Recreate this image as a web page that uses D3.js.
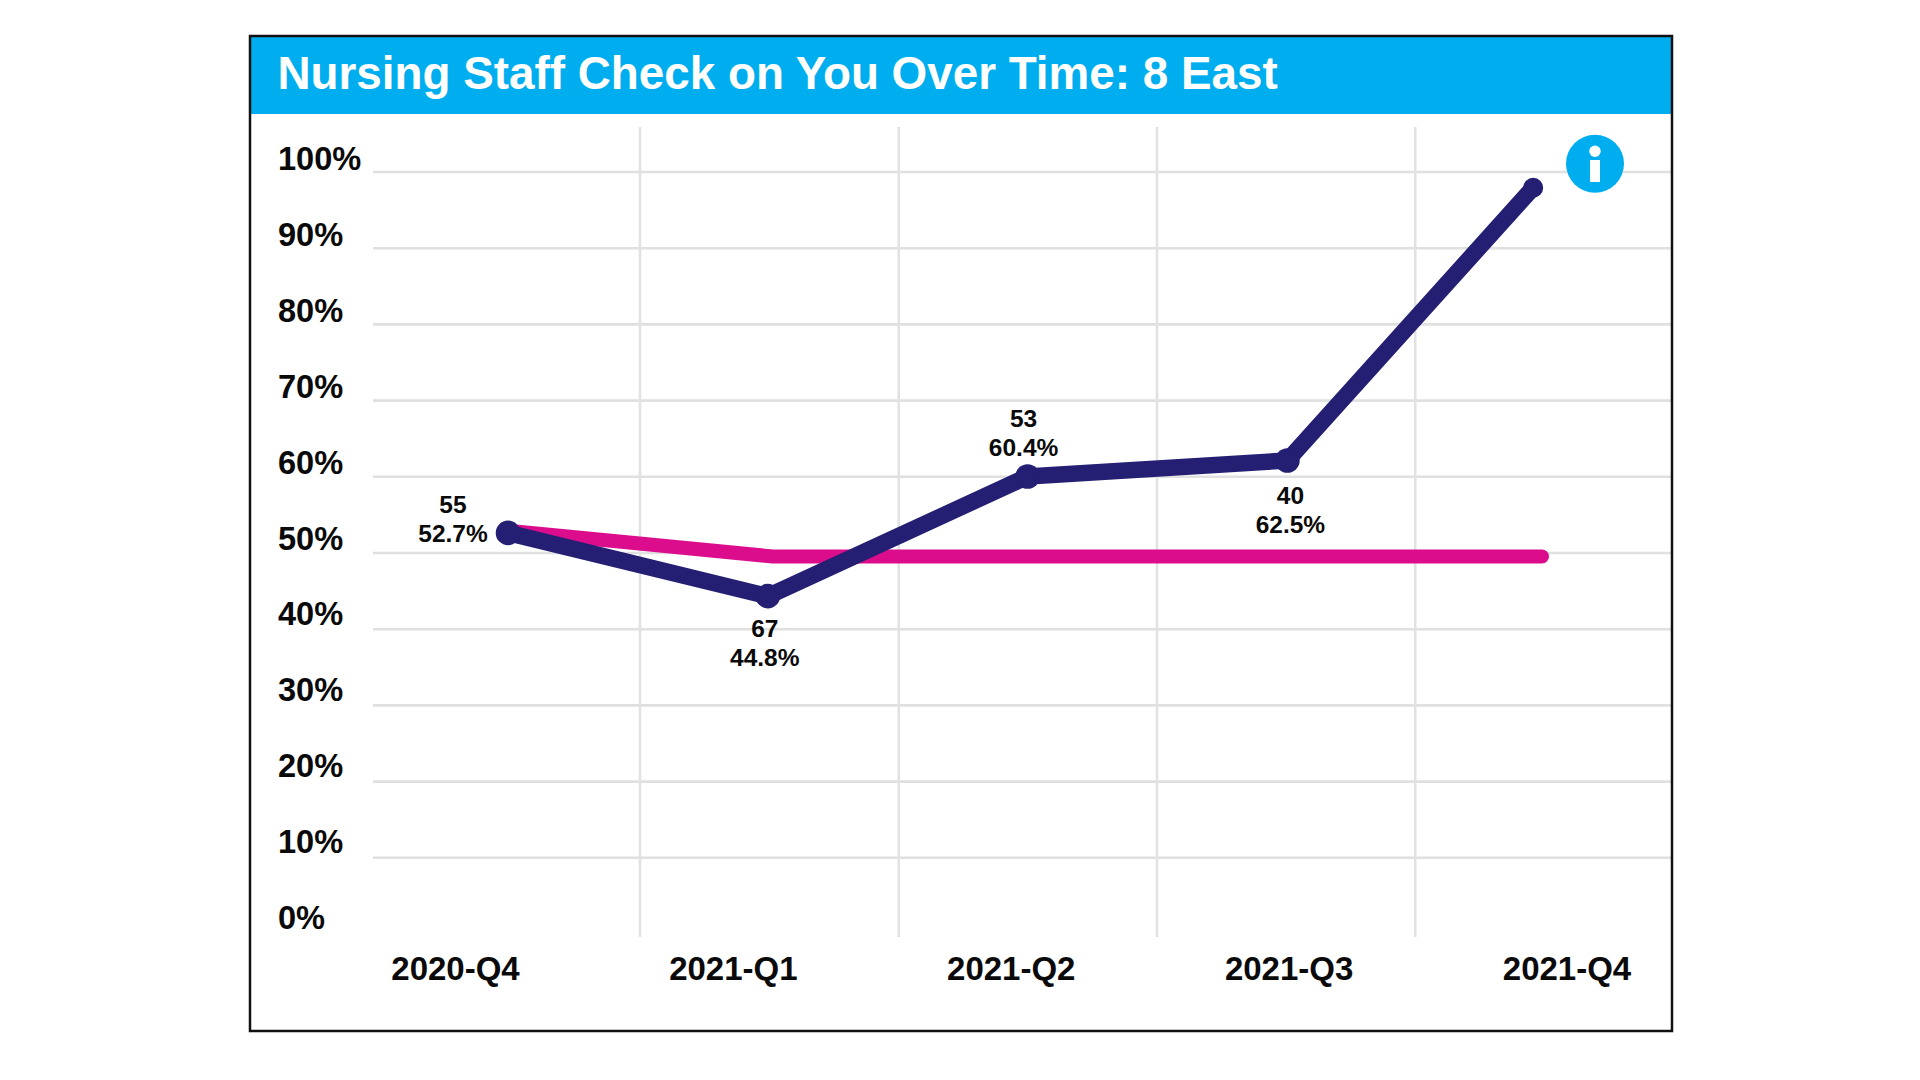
<!DOCTYPE html>
<html>
<head>
<meta charset="utf-8">
<script src="https://cdn.jsdelivr.net/npm/d3@7"></script>
<style>
html,body{margin:0;padding:0;background:#fff;}
svg{display:block;}
text{font-family:"Liberation Sans",Arial,sans-serif;font-weight:700;fill:#0a0a0a;}
</style>
</head>
<body>
<svg id="chart" width="1920" height="1080"></svg>
<script>
// ---- data ----
const chartTitle = "Nursing Staff Check on You Over Time: 8 East";
const quarters = ["2020-Q4","2021-Q1","2021-Q2","2021-Q3","2021-Q4"];
const yTicks = [0,10,20,30,40,50,60,70,80,90,100];
const verticalGridAt = [0.508,1.504,2.498,3.492];
const unitPeriods = [0,1,2,3,3.946];
const unitValues = [52.6,44.3,60.0,62.1,97.9];
const benchmarkPeriods = [0,1.02,2,3,3.98];
const benchmarkValues = [52.9,49.5,49.5,49.5,49.5];
const sampleLabels = ["55","67","53","40"];
const percentLabels = ["52.7%","44.8%","60.4%","62.5%"];

// ---- layout ----
const frame = {x:250,y:36,w:1422,h:995,headerH:78};
const plot = {x0:508,stepX:259.8,yTop:171.7,yBottom:933.7,gridLeft:373,vTop:127,vBottom:937};
const labelOffsets = [[-55,-19.5],[-3,41],[-4,-49.5],[3,43.5]];
const labelLineGap = 29;

const svg = d3.select("#chart");
const x = d3.scaleLinear().domain([0,1]).range([plot.x0,plot.x0+plot.stepX]);
const y = d3.scaleLinear().domain([0,100]).range([plot.yBottom,plot.yTop]);
const yLabelBase = d3.scaleLinear().domain([0,100]).range([929,170]);
const xLabel = d3.scalePoint().domain(quarters).range([455.5,1567]);

svg.append("rect").attr("x",frame.x).attr("y",frame.y).attr("width",frame.w).attr("height",frame.h).attr("fill","#fff");

// grids
svg.append("g").selectAll("line").data(yTicks.filter(d=>d>0)).join("line")
  .attr("x1",plot.gridLeft).attr("x2",frame.x+frame.w)
  .attr("y1",d=>y(d)+0.3).attr("y2",d=>y(d)+0.3)
  .attr("stroke","#e0e0e0").attr("stroke-width",2.6);
svg.append("g").selectAll("line").data(verticalGridAt).join("line")
  .attr("x1",d=>x(d)).attr("x2",d=>x(d))
  .attr("y1",plot.vTop).attr("y2",plot.vBottom)
  .attr("stroke","#e2e2e2").attr("stroke-width",2.6);

// header
svg.append("rect").attr("x",frame.x).attr("y",frame.y).attr("width",frame.w).attr("height",frame.headerH).attr("fill","#00AEEF");
svg.append("text").attr("x",277.5).attr("y",89).attr("font-size",45.8).style("fill","#fff").text(chartTitle);

// axis labels
svg.append("g").selectAll("text").data(yTicks).join("text")
  .attr("x",278).attr("y",d=>yLabelBase(d)).attr("font-size",32.6).text(d=>d+"%");
svg.append("g").selectAll("text").data(quarters).join("text")
  .attr("x",d=>xLabel(d)).attr("y",980).attr("text-anchor","middle").attr("font-size",33).text(d=>d);

// lines
const lineGen = d3.line().x(d=>x(d[0])).y(d=>y(d[1]));
const benchmark = d3.zip(benchmarkPeriods,benchmarkValues);
const unit = d3.zip(unitPeriods,unitValues);
svg.append("path").attr("d",lineGen(benchmark)).attr("fill","none")
  .attr("stroke","#DC0D8C").attr("stroke-width",14).attr("stroke-linecap","round").attr("stroke-linejoin","round");
svg.append("path").attr("d",lineGen(unit)).attr("fill","none")
  .attr("stroke","#241F72").attr("stroke-width",16.5).attr("stroke-linejoin","round");
svg.append("g").selectAll("circle").data(unit).join("circle")
  .attr("cx",d=>x(d[0])).attr("cy",d=>y(d[1]))
  .attr("r",(d,i)=>i===unit.length-1?10:12.3).attr("fill","#241F72");

// data labels
const labelG = svg.append("g").attr("font-size",24.5).attr("text-anchor","middle");
sampleLabels.forEach((s,i)=>{
  const px = x(unitPeriods[i])+labelOffsets[i][0], py = y(unitValues[i])+labelOffsets[i][1];
  labelG.append("text").attr("x",px).attr("y",py).text(s);
  labelG.append("text").attr("x",px).attr("y",py+labelLineGap).text(percentLabels[i]);
});

// info icon
const info = svg.append("g").attr("transform","translate(1595,163.7)");
info.append("circle").attr("r",29).attr("fill","#00AEEF");
info.append("circle").attr("cy",-12.4).attr("r",5.7).attr("fill","#fff");
info.append("rect").attr("x",-5).attr("y",-3.7).attr("width",10).attr("height",22).attr("fill","#fff");

// frame
svg.append("rect").attr("x",frame.x).attr("y",frame.y).attr("width",frame.w).attr("height",frame.h)
  .attr("fill","none").attr("stroke","#111").attr("stroke-width",2.5);
</script>
</body>
</html>
